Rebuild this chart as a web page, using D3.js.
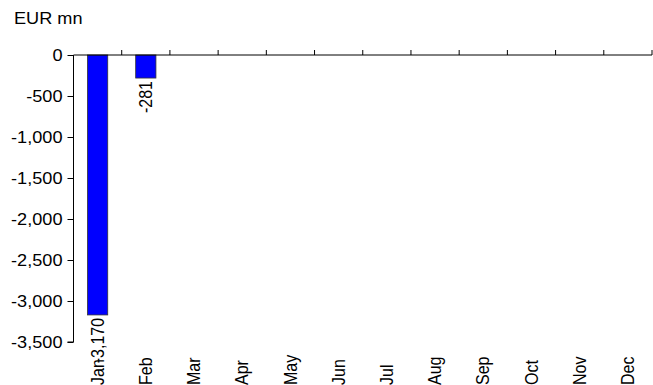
<!DOCTYPE html>
<html>
<head>
<meta charset="utf-8">
<script src="https://cdn.jsdelivr.net/npm/d3@7"></script>
<style>
  html, body { margin: 0; padding: 0; background: #fff; }
  svg { display: block; font-family: "Liberation Sans", Arial, sans-serif; }
</style>
</head>
<body>
<svg id="chart" width="653" height="385"></svg>
<script>
// Monthly values, EUR mn
const months = ["Jan", "Feb", "Mar", "Apr", "May", "Jun", "Jul", "Aug", "Sep", "Oct", "Nov", "Dec"];
const values = [-3170, -281, null, null, null, null, null, null, null, null, null, null];
const yTicks = [0, -500, -1000, -1500, -2000, -2500, -3000, -3500];
const unitLabel = "EUR mn";

(function () {
  const svg = d3.select("#chart");
  const plotLeft = 73.5, plotRight = 652, plotTop = 55, plotBottom = 342;
  const hFont = 16.5;   // horizontal text
  const stretch = 1.1;  // glyphs are set slightly wide
  const vFont = 16;     // rotated text

  const x = d3.scaleBand().domain(months).range([plotLeft, plotRight]).paddingInner(0.58).paddingOuter(0.29);
  const xBand = d3.scaleBand().domain(months).range([plotLeft, plotRight]);
  const y = d3.scaleLinear().domain([-3500, 0]).range([plotBottom, plotTop]);

  // thousands separator with a plain hyphen for negatives
  const fmt = v => d3.format(",")(v).replace("\u2212", "-");

  // Unit label
  svg.append("text")
    .attr("transform", `translate(14,24) scale(${stretch},1)`)
    .attr("font-size", hFont)
    .text(unitLabel);

  // Y axis
  const yAxis = svg.append("g")
    .attr("transform", `translate(${plotLeft},0)`)
    .call(d3.axisLeft(y).tickValues(yTicks).tickSize(6).tickPadding(0).tickFormat(fmt));
  yAxis.select(".domain").attr("stroke", "#000").attr("d", `M-6,${plotBottom}H0V${plotTop}`);
  yAxis.selectAll(".tick line").attr("stroke", "#000");
  yAxis.selectAll(".tick text")
    .attr("x", null)
    .attr("transform", `translate(-11,0) scale(${stretch},1)`)
    .attr("font-size", hFont).attr("fill", "#000")
    .attr("font-family", "Liberation Sans, Arial, sans-serif");

  // Bars
  const data = months.map((m, i) => ({ m, v: values[i] })).filter(d => d.v != null);
  svg.append("g").selectAll("rect")
    .data(data)
    .join("rect")
    .attr("x", d => x(d.m))
    .attr("width", x.bandwidth())
    .attr("y", d => y(Math.max(0, d.v)))
    .attr("height", d => Math.abs(y(d.v) - y(0)))
    .attr("fill", "#0000ff")
    .attr("stroke", "#333")
    .attr("stroke-width", 0.8);

  // Value labels below each bar end
  svg.append("g").selectAll("text")
    .data(data)
    .join("text")
    .attr("transform", d => `translate(${x(d.m) + x.bandwidth() / 2},${y(d.v) + 3}) rotate(-90) scale(1,${stretch})`)
    .attr("text-anchor", "end")
    .attr("dy", "0.35em")
    .attr("font-size", vFont)
    .text(d => fmt(d.v));

  // Category axis along zero
  const xAxis = svg.append("g");
  xAxis.append("line")
    .attr("x1", plotLeft).attr("x2", plotRight)
    .attr("y1", y(0)).attr("y2", y(0))
    .attr("stroke", "#000");
  xAxis.selectAll("line.tick")
    .data(months)
    .join("line")
    .attr("class", "tick")
    .attr("x1", d => xBand(d) + xBand.bandwidth()).attr("x2", d => xBand(d) + xBand.bandwidth())
    .attr("y1", y(0)).attr("y2", y(0) - 5)
    .attr("stroke", "#000");

  // Month labels at the bottom
  svg.append("g").selectAll("text")
    .data(months)
    .join("text")
    .attr("transform", d => `translate(${xBand(d) + xBand.bandwidth() / 2},385) rotate(-90) scale(1,${stretch})`)
    .attr("text-anchor", "start")
    .attr("dy", "0.35em")
    .attr("font-size", vFont)
    .text(d => d);
})();
</script>
</body>
</html>
